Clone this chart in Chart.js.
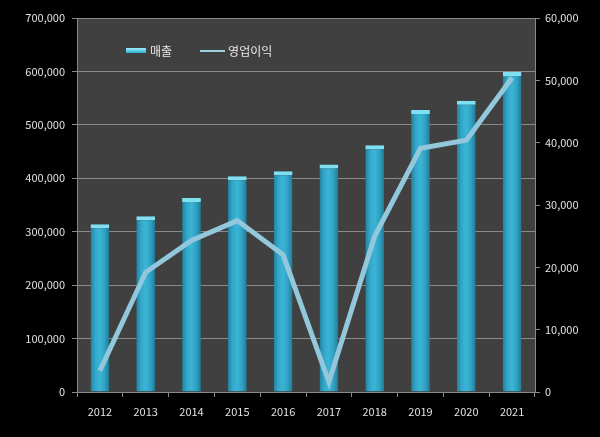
<!DOCTYPE html>
<html>
<head>
<meta charset="utf-8">
<script src="https://cdn.jsdelivr.net/npm/chart.js@4"></script>
<style>
    html, body { margin: 0; padding: 0; background: #000; }
    #wrap { position: relative; width: 600px; height: 437px; }
    #legend { position: absolute; left: 126px; top: 42px; font: 12px "Noto Sans CJK KR", sans-serif; color: #e8e8e8; display: flex; align-items: center; }
    .swatch-bar { display: inline-block; width: 20px; height: 5px; background: linear-gradient(#9af0ff, #2fb0d0); margin-right: 4px; }
    .swatch-line { display: inline-block; width: 25px; height: 2px; background: #9ccfe0; margin: 0 3px 0 28px; }
</style>
</head>
<body>
<div id="wrap">
    <canvas id="combo" width="600" height="437"></canvas>
    <div id="legend"><span class="swatch-bar"></span>매출<span class="swatch-line"></span>영업이익</div>
</div>
<script>
const years = ['2012', '2013', '2014', '2015', '2016', '2017', '2018', '2019', '2020', '2021'];
const sales = [314000, 329000, 363000, 404000, 413000, 426000, 462000, 528000, 545000, 599000];
const operatingProfit = [3400, 19200, 24300, 27500, 22000, 1600, 25000, 39100, 40400, 50400];

const tickFont = { family: '"Noto Sans CJK KR", sans-serif', size: 11 };
const barShare = 0.41;

const plotBackground = {
    id: 'plotBackground',
    beforeDraw(chart) {
        const { ctx, chartArea: a } = chart;
        ctx.save();
        ctx.fillStyle = '#000';
        ctx.fillRect(0, 0, chart.width, chart.height);
        ctx.fillStyle = '#404040';
        ctx.fillRect(a.left, a.top, a.right - a.left, a.bottom - a.top);
        ctx.restore();
    }
};

function barGradient(context) {
    const chart = context.chart;
    const xs = chart.scales && chart.scales.x;
    if (!xs || xs.width == null) return '#33abcc';
    const cx = xs.getPixelForValue(context.dataIndex);
    const w = xs.width / years.length * barShare;
    const g = chart.ctx.createLinearGradient(cx - w / 2, 0, cx + w / 2, 0);
    g.addColorStop(0, '#23809c');
    g.addColorStop(0.25, '#33a8ca');
    g.addColorStop(0.5, '#3bb4d5');
    g.addColorStop(0.75, '#30a2c3');
    g.addColorStop(1, '#207a95');
    return g;
}

const chart = new Chart(document.getElementById('combo'), {
    data: {
        labels: years,
        datasets: [
            {
                type: 'line',
                label: '영업이익',
                data: operatingProfit,
                yAxisID: 'y1',
                borderColor: '#93c8dc',
                borderWidth: 5,
                pointRadius: 0,
                tension: 0,
                order: 0
            },
            {
                type: 'bar',
                label: '매출',
                data: sales,
                yAxisID: 'y',
                backgroundColor: barGradient,
                borderColor: '#80e0f2',
                borderWidth: { top: 4, left: 0, right: 0, bottom: 0 },
                borderSkipped: false,
                barPercentage: barShare,
                categoryPercentage: 1,
                order: 1
            }
        ]
    },
    options: {
        responsive: false,
        animation: false,
        layout: { padding: { top: 18, left: 0, right: 0, bottom: 0 } },
        plugins: {
            legend: { display: false },
            tooltip: { enabled: false }
        },
        scales: {
            x: {
                offset: true,
                grid: { offset: true, drawOnChartArea: false, color: '#8a8a8a', tickLength: 5 },
                border: { color: '#8a8a8a' },
                ticks: { color: '#e0e0e0', font: tickFont, padding: 8 },
                afterFit(s) { s.height = 45; }
            },
            y: {
                position: 'left',
                min: 0,
                max: 700000,
                grid: { color: '#8a8a8a', tickLength: 5 },
                border: { color: '#8a8a8a' },
                ticks: {
                    stepSize: 100000,
                    color: '#e0e0e0',
                    font: tickFont,
                    padding: 7,
                    callback: v => v.toLocaleString('en-US')
                },
                afterFit(s) { s.width = 77; }
            },
            y1: {
                position: 'right',
                min: 0,
                max: 60000,
                grid: { drawOnChartArea: false, color: '#8a8a8a', tickLength: 5 },
                border: { color: '#8a8a8a' },
                ticks: {
                    stepSize: 10000,
                    color: '#e0e0e0',
                    font: tickFont,
                    padding: 5,
                    callback: v => v.toLocaleString('en-US')
                },
                afterFit(s) { s.width = 65; }
            }
        }
    },
    plugins: [plotBackground]
});
chart.update();
</script>
</body>
</html>
